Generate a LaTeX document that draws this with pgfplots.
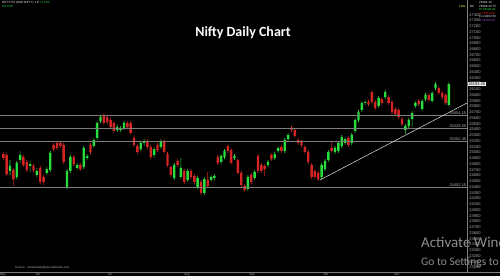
\documentclass[border=0pt]{standalone}
\usepackage{fontspec}
\setmainfont{Carlito}
\newfontfamily\lib{Liberation Sans}
\usepackage{pgfplots}
\usepackage{pgfplotstable}
\pgfplotsset{compat=1.18}
\definecolor{cgreen}{RGB}{38,222,60}
\definecolor{cred}{RGB}{212,36,36}
\definecolor{lvl}{RGB}{125,125,125}
\definecolor{tlab}{RGB}{175,175,175}
\definecolor{wm}{RGB}{140,140,140}
\definecolor{cpur}{RGB}{170,60,200}
\newcommand{\tk}{\lib\fontsize{4}{4.5}\selectfont}
\newcommand{\tsm}{\lib\fontsize{3}{3.5}\selectfont}

% daily candles: index, open, high, low, close
\pgfplotstableread{
i o h l c
1 24975 25010 24871 24906
2 24958 24993 24593 24627
3 24680 24871 24610 24767
4 24697 24732 24419 24540
5 24575 24854 24540 24819
6 24871 25028 24819 24958
7 24923 24958 24749 24784
8 24836 24871 24662 24697
9 24767 24854 24662 24801
10 24767 24801 24662 24697
11 24610 24732 24575 24680
12 24732 24767 24453 24488
13 24575 24610 24436 24488
14 24645 24749 24610 24714
15 24697 25028 24662 24993
16 25132 25167 25028 25062
17 25167 25202 25045 25080
18 25167 25202 25080 25115
19 25132 25167 24801 24836
20 24401 24714 24366 24680
21 24680 24958 24645 24923
22 24923 24958 24767 24801
23 24732 24819 24697 24784
24 24784 24819 24680 24714
25 24749 25115 24714 25080
26 24906 24975 24871 24941
27 25132 25167 24975 25010
28 25115 25254 25080 25219
29 25254 25550 25219 25515
30 25550 25654 25515 25619
31 25654 25689 25480 25515
32 25619 25654 25497 25532
33 25567 25602 25410 25445
34 25515 25550 25341 25376
35 25393 25480 25358 25445
36 25393 25463 25358 25428
37 25428 25550 25393 25515
38 25515 25550 25410 25445
39 25515 25550 25306 25341
40 25254 25289 25097 25132
41 25115 25149 24975 25010
42 25062 25202 25028 25167
43 25167 25236 25115 25202
44 25202 25236 25062 25097
45 25097 25132 24888 24923
46 24958 25097 24906 25062
47 25132 25167 25010 25045
48 25097 25236 25062 25202
49 25202 25236 24975 25010
50 24975 25010 24749 24784
51 24749 24784 24575 24610
52 24558 24819 24523 24784
53 24854 24888 24749 24784
54 24575 24906 24540 24732
55 24680 24714 24453 24488
56 24523 24714 24488 24680
57 24680 24714 24540 24575
58 24593 24627 24453 24488
59 24401 24593 24366 24558
60 24488 24523 24262 24297
61 24297 24575 24262 24540
62 24523 24662 24384 24419
63 24523 24610 24488 24575
64 24558 24627 24523 24593
65 24923 24958 24784 24819
66 24836 24975 24801 24941
67 24923 25062 24888 25028
68 25115 25149 24993 25028
69 25045 25080 24784 24819
70 24906 24975 24871 24941
71 24871 24906 24610 24645
72 24645 24680 24401 24436
73 24419 24453 24314 24349
74 24366 24610 24332 24575
75 24610 24645 24453 24488
76 24558 24697 24523 24662
77 24941 24975 24645 24680
78 24784 24819 24645 24680
79 24767 24801 24593 24714
80 24784 24871 24749 24836
81 24958 24993 24854 24888
82 24906 25010 24871 24975
83 25028 25115 24993 25080
84 25097 25132 24993 25028
85 25028 25254 24993 25219
86 25236 25341 25202 25306
87 25428 25463 25358 25393
88 25393 25428 25254 25289
89 25219 25254 25132 25167
90 25184 25219 25097 25132
91 25097 25132 24975 25010
92 25010 25045 24801 24836
93 24784 24819 24540 24575
94 24680 24714 24540 24575
95 24645 24680 24506 24540
96 24575 24819 24540 24784
97 24714 24888 24680 24854
98 24871 25045 24836 25010
99 25080 25184 24993 25028
100 25010 25115 24975 25080
101 25028 25202 24993 25167
102 25115 25306 25080 25271
103 25167 25271 25132 25236
104 25254 25289 25097 25132
105 25167 25341 25132 25306
106 25376 25602 25341 25567
107 25567 25741 25532 25706
108 25741 25898 25706 25863
109 25863 25915 25828 25880
110 25880 25915 25811 25845
111 26054 26089 25845 25880
112 25880 25915 25741 25776
113 25811 25985 25776 25950
114 25932 25967 25828 25863
115 25967 26089 25932 26054
116 25967 26002 25828 25863
117 25880 25915 25671 25706
118 25758 25793 25637 25671
119 25741 25776 25584 25619
120 25584 25619 25463 25497
121 25393 25497 25323 25463
122 25463 25602 25428 25567
123 25584 25724 25445 25689
124 25811 25898 25776 25863
125 25898 25932 25811 25845
126 25758 25932 25724 25898
127 25932 26037 25898 26002
128 26002 26037 25880 25915
129 25898 26072 25863 26037
130 26124 26228 26089 26193
131 26124 26159 26002 26037
132 26037 26072 25932 25967
133 26002 26037 25828 25863
134 25828 26228 25811 26193
}\candles

\pgfplotsset{
  cstack/.style n args={2}{ybar, stack plots=y, bar shift=0pt, bar width=#1,
    draw=none, fill=#2, forget plot},
}

\begin{document}
\begin{tikzpicture}
\fill[black] (0pt,0pt) rectangle (500pt,280pt);
\fill[white!92!gray] (0pt,0pt) rectangle (500pt,4pt);
\begin{axis}[
  at={(0pt,8pt)}, anchor=south west,
  scale only axis, width=467pt, height=272pt,
  xmin=0, xmax=139.4, ymin=22922, ymax=27655,
  clip=false,
  axis x line*=bottom, axis y line*=right,
  axis line style={draw=lvl, line width=0.6pt, -},
  tick style={draw=lvl, line width=0.4pt},
  tick align=outside, major tick length=1.2pt,
  xtick={0.9,11.3,32.8,55.8,75.2,97.3,118.5},
  xticklabels={May,Jun,Jul,Aug,Sep,Oct,Nov},
  ytick={23000,23100,...,27400},
  scaled y ticks=false,
  /pgf/number format/1000 sep={},
  /pgf/number format/assume math mode=true,
  ticklabel style={font=\tk, text=tlab},
  xticklabel style={inner sep=0.4pt, font=\tsm},
  yticklabel style={inner sep=1pt},
]
% stacked segments: low -> lower wick -> body -> upper wick
\addplot[cstack={0.6pt}{none}] table[x=i, y=l] {\candles};
\addplot[cstack={0.6pt}{cgreen}] table[x=i, y expr={ifthenelse(\thisrow{c}>=\thisrow{o}, \thisrow{o}-\thisrow{l}, 0)}] {\candles};
\addplot[cstack={0.6pt}{cred}] table[x=i, y expr={ifthenelse(\thisrow{c}<\thisrow{o}, \thisrow{c}-\thisrow{l}, 0)}] {\candles};
\addplot[cstack={2.4pt}{cgreen}] table[x=i, y expr={ifthenelse(\thisrow{c}>=\thisrow{o}, \thisrow{c}-\thisrow{o}, 0)}] {\candles};
\addplot[cstack={2.4pt}{cred}] table[x=i, y expr={ifthenelse(\thisrow{c}<\thisrow{o}, \thisrow{o}-\thisrow{c}, 0)}] {\candles};
\addplot[cstack={0.6pt}{cgreen}] table[x=i, y expr={ifthenelse(\thisrow{c}>=\thisrow{o}, \thisrow{h}-\thisrow{c}, 0)}] {\candles};
\addplot[cstack={0.6pt}{cred}] table[x=i, y expr={ifthenelse(\thisrow{c}<\thisrow{o}, \thisrow{h}-\thisrow{o}, 0)}] {\candles};

\addplot[lvl, line width=0.8pt, forget plot] coordinates {(0,25654) (139.4,25654)};
\addplot[lvl, line width=0.8pt, forget plot] coordinates {(0,25428) (139.4,25428)};
\addplot[lvl, line width=0.8pt, forget plot] coordinates {(0,25202) (139.4,25202)};
\addplot[lvl, line width=0.8pt, forget plot] coordinates {(0,24402) (139.4,24402)};
\addplot[white!80!gray, line width=0.5pt, forget plot] coordinates {(95.5,24523) (139.4,25863)};

\node[anchor=south east, font=\tk, text=tlab, inner sep=0.6pt] at (axis cs:139.4,25654) {25654.15};
\node[anchor=south east, font=\tk, text=tlab, inner sep=0.6pt] at (axis cs:139.4,25428) {25428.55};
\node[anchor=south east, font=\tk, text=tlab, inner sep=0.6pt] at (axis cs:139.4,25202) {25202.45};
\node[anchor=south east, font=\tk, text=tlab, inner sep=0.6pt] at (axis cs:139.4,24402) {24402.15};
\node[anchor=west, fill=white!88!gray, text=black, font=\tk, inner sep=0.6pt] at (axis cs:139.6,26193) {26193.45};
\end{axis}

\draw[lvl, line width=0.6pt] (467pt,8pt) -- (500pt,8pt);

\node[anchor=base, font=\bfseries\fontsize{14}{16}\selectfont, text=white] at (243pt,243pt) {Nifty Daily Chart};

\node[anchor=north west, font=\tsm, text=white!85!gray, inner sep=0pt] at (2pt,278.5pt) {NIFTY 50 (NSE:NIFTY), 1D \textcolor{cgreen}{+1.23\%}};
\node[anchor=north west, font=\tsm, text=cgreen, inner sep=0pt] at (2pt,274.5pt) {Vol 0.00};

\node[anchor=base west, font=\tsm, text=yellow!70!white, inner sep=0pt] at (459pt,272pt) {LOG};
\node[anchor=base west, font=\tsm, text=white!80!gray, inner sep=0pt] at (470pt,272pt) {BS};

\node[anchor=north west, font=\tsm, text=white!85!gray, inner sep=0pt] at (479pt,278.5pt) {25494.10};
\node[anchor=north west, font=\tsm, text=white!85!gray, inner sep=0pt] at (479pt,275pt) {26088.20 T5};
\node[anchor=north west, font=\tsm, text=cgreen, inner sep=0pt] at (479pt,271.5pt) {Hi 26228.45};
\node[anchor=north west, font=\tsm, text=cred, inner sep=0pt] at (479pt,268pt) {H 25918.80};
\node[anchor=north west, font=\tsm, text=white!85!gray, inner sep=0pt] at (479pt,264.5pt) {Lo 24462.50};
\node[anchor=north west, font=\tsm, text=cpur, inner sep=0pt] at (479pt,261pt) {C 26193.45};

\node[anchor=base west, font=\tsm, text=tlab, inner sep=0pt] at (15pt,11pt) {Source : www.tradingfinancialmedia.com};

\node[anchor=base west, font=\fontsize{15}{16}\selectfont, text=wm, inner sep=0pt] at (421pt,32pt) {Activate Windows};
\node[anchor=base west, font=\fontsize{11.5}{12}\selectfont, text=wm, inner sep=0pt] at (421pt,14.3pt) {Go to Settings to activate Windows.};

\pgfresetboundingbox
\useasboundingbox (0pt,0pt) rectangle (500pt,280pt);
\end{tikzpicture}
\end{document}
